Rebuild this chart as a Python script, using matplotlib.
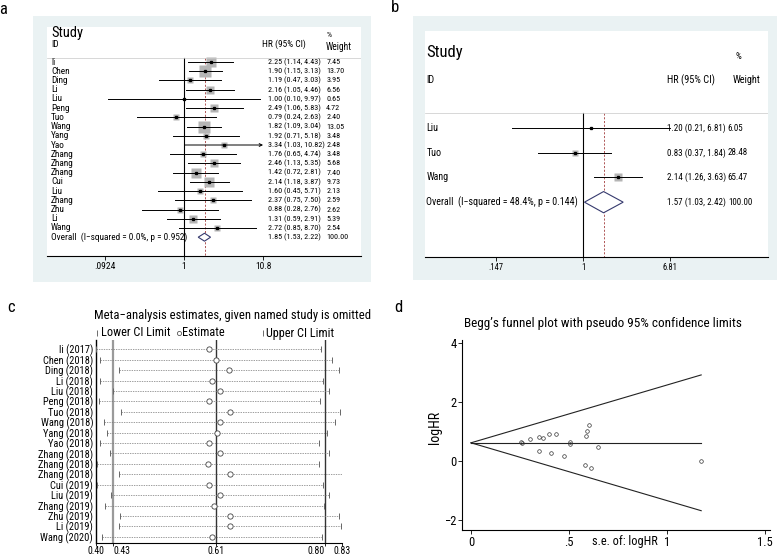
import numpy as np
import matplotlib
matplotlib.use('Agg')
import matplotlib.pyplot as plt
from matplotlib.patches import Rectangle, Polygon
from matplotlib.lines import Line2D
from matplotlib import font_manager

# a narrow humanist face would be closest; use one if it is installed
names_avail = {f.name for f in font_manager.fontManager.ttflist}
family = [f for f in ['Liberation Sans Narrow', 'DejaVu Sans Condensed', 'Roboto Condensed']
          if f in names_avail] + ['Lato', 'DejaVu Sans']
plt.rcParams['font.family'] = family

W, H = 780, 555

# --- panel a : forest plot, all studies ---
a_names = ['li', 'Chen', 'Ding', 'Li', 'Liu', 'Peng', 'Tuo', 'Wang', 'Yang', 'Yao',
           'Zhang', 'Zhang', 'Zhang', 'Cui', 'Liu', 'Zhang', 'Zhu', 'Li', 'Wang']
a_hr = [2.25, 1.90, 1.19, 2.16, 1.00, 2.49, 0.79, 1.82, 1.92, 3.34,
        1.76, 2.46, 1.42, 2.14, 1.60, 2.37, 0.88, 1.31, 2.72]
a_lo = [1.14, 1.15, 0.47, 1.05, 0.10, 1.06, 0.24, 1.09, 0.71, 1.03,
        0.65, 1.13, 0.72, 1.18, 0.45, 0.75, 0.28, 0.59, 0.85]
a_hi = [4.43, 3.13, 3.03, 4.46, 9.97, 5.83, 2.63, 3.04, 5.18, 10.82,
        4.74, 5.35, 2.81, 3.87, 5.71, 7.50, 2.76, 2.91, 8.70]
a_w = [7.45, 13.70, 3.95, 6.56, 0.65, 4.72, 2.40, 13.05, 3.48, 2.48,
       3.48, 5.68, 7.40, 9.73, 2.13, 2.59, 2.62, 5.39, 2.54]
a_overall = (1.85, 1.53, 2.22)
a_overall_txt = 'Overall  (I\u2212squared = 0.0%, p = 0.952)'
a_ticks = [0.0924, 1, 10.8]
a_ticklabels = ['.0924', '1', '10.8']

# --- panel b : forest plot, subgroup ---
b_names = ['Liu', 'Tuo', 'Wang']
b_hr = [1.20, 0.83, 2.14]
b_lo = [0.21, 0.37, 1.26]
b_hi = [6.81, 1.84, 3.63]
b_w = [6.05, 28.48, 65.47]
b_overall = (1.57, 1.03, 2.42)
b_overall_txt = 'Overall  (I\u2212squared = 48.4%, p = 0.144)'
b_ticks = [0.147, 1, 6.81]
b_ticklabels = ['.147', '1', '6.81']

# --- panel c : leave-one-out sensitivity ---
c_names = ['li (2017)', 'Chen (2018)', 'Ding (2018)', 'Li (2018)', 'Liu (2018)',
           'Peng (2018)', 'Tuo (2018)', 'Wang (2018)', 'Yang (2018)', 'Yao (2018)',
           'Zhang (2018)', 'Zhang (2018)', 'Zhang (2018)', 'Cui (2019)', 'Liu (2019)',
           'Zhang (2019)', 'Zhu (2019)', 'Li (2019)', 'Wang (2020)']
c_est = [0.598, 0.610, 0.632, 0.602, 0.617, 0.598, 0.635, 0.616, 0.612, 0.598,
         0.616, 0.596, 0.634, 0.598, 0.617, 0.607, 0.634, 0.634, 0.603]
c_lo = [0.400, 0.407, 0.440, 0.407, 0.429, 0.406, 0.443, 0.414, 0.420, 0.407,
        0.424, 0.401, 0.440, 0.401, 0.426, 0.415, 0.442, 0.440, 0.410]
c_hi = [0.793, 0.812, 0.825, 0.797, 0.807, 0.792, 0.826, 0.818, 0.804, 0.790,
        0.807, 0.790, 0.832, 0.797, 0.807, 0.799, 0.825, 0.828, 0.795]
c_ref = [0.43, 0.61, 0.80]
c_ticks = [0.40, 0.43, 0.61, 0.80, 0.83]

# --- panel d : Begg's funnel (from panel a studies) ---
d_pooled = np.log(1.85)
d_xticks = [0, 0.5, 1, 1.5]
d_xticklabels = ['0', '.5', '1', '1.5']
d_yticks = [-2, 0, 2, 4]
d_yticklabels = ['\u22122', '0', '2', '4']

BG = '#eaf2f3'
SQ = '#b5b5b5'
NAVY = '#363a6e'
RED = '#a23b3b'

fig = plt.figure(figsize=(7.8, 5.55), dpi=100)
renderer = fig.canvas.get_renderer()


def fit_fs(s, target_px, base=10, cap=None):
    # font size that makes string s about target_px wide
    t = fig.text(0, 0, s, fontsize=base)
    wpx = t.get_window_extent(renderer=renderer).width
    t.remove()
    fs = base * target_px / wpx
    return min(fs, cap) if cap else fs


def ax_px(l, t, r, b, **kw):
    return fig.add_axes([l / W, 1 - b / H, (r - l) / W, (b - t) / H], **kw)


def box_px(l, t, r, b, color):
    fig.add_artist(Rectangle((l / W, 1 - b / H), (r - l) / W, (b - t) / H,
                             transform=fig.transFigure, facecolor=color,
                             edgecolor='none', zorder=0))


def forest(ax, names, hr, lo, hi, w, overall, overall_txt, xlim, ylim, sq_k,
           head_y, fs_name, fs_num, fs_tick, ticks, ticklabels, col_name, col_hr, col_w,
           dia_h, clip_hi=None):
    ax.set_xscale('log')
    ax.set_xlim(*xlim)
    ax.set_ylim(*ylim)
    for s in ['top', 'left', 'right']:
        ax.spines[s].set_visible(False)
    ax.spines['bottom'].set_linewidth(0.8)
    ax.set_yticks([])
    ax.minorticks_off()
    ax.set_xticks(ticks)
    ax.set_xticklabels(ticklabels)
    ax.tick_params(axis='x', length=3, width=0.6, labelsize=fs_tick, pad=1)
    tr = ax.get_yaxis_transform()
    n = len(names)
    for i in range(n):
        if clip_hi is not None and hi[i] > clip_hi:
            ax.annotate('', xy=(clip_hi, i), xytext=(lo[i], i),
                        arrowprops=dict(arrowstyle='->', lw=0.7, color='black',
                                        shrinkA=0, shrinkB=0, mutation_scale=5))
        else:
            ax.plot([lo[i], hi[i]], [i, i], color='black', lw=0.7, zorder=3)
        side = sq_k * np.sqrt(w[i]) * 0.72
        ax.plot(hr[i], i, marker='s', ms=side, color=SQ, mec='none', zorder=2)
        ax.plot(hr[i], i, marker='s', ms=1.4, color='black', zorder=4)
        ax.text(col_name, i, names[i], transform=tr, fontsize=fs_name, va='center')
        ax.text(col_hr, i, f'{hr[i]:.2f} ({lo[i]:.2f}, {hi[i]:.2f})',
                transform=tr, fontsize=fs_num, va='center')
        ax.text(col_w, i, f'{w[i]:.2f}', transform=tr, fontsize=fs_num, va='center')
    m, l, h = overall
    dia = Polygon([(l, n), (m, n - dia_h), (h, n), (m, n + dia_h)], closed=True,
                  facecolor='white', edgecolor=NAVY, lw=0.8, zorder=3)
    ax.add_patch(dia)
    ax.text(col_name, n, overall_txt, transform=tr, fontsize=fs_name, va='center')
    ax.text(col_hr, n, f'{m:.2f} ({l:.2f}, {h:.2f})', transform=tr, fontsize=fs_num,
            va='center')
    ax.text(col_w, n, '100.00', transform=tr, fontsize=fs_num, va='center')
    ax.plot([1, 1], [head_y, ylim[0]], color='black', lw=0.8, zorder=1)
    ax.plot([m, m], [head_y, ylim[0]], color=RED, lw=0.6, ls=(0, (2.5, 2)), zorder=1)
    ax.axhline(head_y, color='#c8c8c8', lw=0.5)


# font sizes fitted to the widths measured on the reference
fa_name = fit_fs(a_overall_txt, 136, cap=7.5)
fa_num = fit_fs('2.25 (1.14, 4.43)', 52, cap=7)
fa_tick = fit_fs('.0924', 21, cap=7)
fb_name = fit_fs(b_overall_txt, 151, cap=9)
fb_num = fit_fs('1.20 (0.21, 6.81)', 58, cap=8)
fb_tick = fit_fs('.147', 15, cap=8)

# panel a
box_px(33, 16, 371, 282, BG)
axa = ax_px(47, 27, 361, 256)
forest(axa, a_names, a_hr, a_lo, a_hi, a_w, a_overall, a_overall_txt,
       (np.exp(-4.13), np.exp(5.33)), (21.04, -3.8), 3.5, -0.43, fa_name, fa_num, fa_tick,
       a_ticks, a_ticklabels, 0.013, 0.704, 0.889, 0.43, clip_hi=10.8)
tr = axa.get_yaxis_transform()
axa.text(0.013, -3.15, 'Study', transform=tr, fontsize=fit_fs('Study', 32, cap=11),
         va='center')
axa.text(0.013, -1.95, 'ID', transform=tr, fontsize=fa_name, va='center')
axa.text(0.685, -1.95, 'HR (95% CI)', transform=tr,
         fontsize=fit_fs('HR (95% CI)', 44, cap=7.5), va='center')
axa.text(0.889, -2.9, '%', transform=tr, fontsize=fa_num, va='center')
axa.text(0.889, -1.6, 'Weight', transform=tr, fontsize=fit_fs('Weight', 26, cap=7.5),
         va='center')

# panel b
box_px(413, 16, 777, 280, BG)
axb = ax_px(425, 31, 768, 257)
forest(axb, b_names, b_hr, b_lo, b_hi, b_w, b_overall, b_overall_txt,
       (np.exp(-3.49), np.exp(4.08)), (5.22, -3.93), 1.0, -0.61, fb_name, fb_num, fb_tick,
       b_ticks, b_ticklabels, 0.004, 0.706, 0.883, 0.43)
tr = axb.get_yaxis_transform()
axb.text(0.004, -3.04, 'Study', transform=tr, fontsize=fit_fs('Study', 37, cap=12),
         va='center')
axb.text(0.004, -1.94, 'ID', transform=tr, fontsize=fb_name, va='center')
axb.text(0.706, -1.94, 'HR (95% CI)', transform=tr,
         fontsize=fit_fs('HR (95% CI)', 48, cap=8.5), va='center')
axb.text(0.904, -2.9, '%', transform=tr, fontsize=fb_num, va='center')
axb.text(0.898, -1.94, 'Weight', transform=tr, fontsize=fit_fs('Weight', 28, cap=8.5),
         va='center')

# panel c
axc = ax_px(96, 340, 342, 543)
axc.set_xlim(0.40, 0.83)
axc.set_ylim(18.6, -0.9)
for s in ['top', 'right']:
    axc.spines[s].set_visible(False)
axc.spines['left'].set_linewidth(1.0)
axc.spines['bottom'].set_linewidth(0.8)
for v, col, lw in zip(c_ref, ['#9a9a9a', '#333333', '#333333'], [1.6, 1.0, 1.0]):
    axc.axvline(v, color=col, lw=lw, zorder=1)
for i in range(len(c_names)):
    axc.plot([c_lo[i], c_hi[i]], [i, i], color='#777777', lw=0.5, ls=(0, (2, 1.5)), zorder=2)
    axc.plot([c_lo[i], c_hi[i]], [i, i], ls='none', marker='|', ms=4, mew=0.7,
             color='#666666', zorder=3)
    axc.plot(c_est[i], i, marker='o', ms=3.8, mfc='white', mec='#444444', mew=0.6, zorder=4)
axc.set_yticks(range(len(c_names)))
axc.set_yticklabels(c_names)
axc.tick_params(axis='y', length=0, labelsize=7.5, pad=2)
axc.set_xticks(c_ticks)
axc.set_xticklabels([f'{t:.2f}' for t in c_ticks])
axc.tick_params(axis='x', length=2, width=0.6, labelsize=fit_fs('0.40', 17, cap=8), pad=0.5)
xl = axc.get_xticklabels()
xl[1].set_horizontalalignment('left')
xl[3].set_horizontalalignment('right')
c_title = 'Meta\u2212analysis estimates, given named study is omitted'
fig.text(233 / W, 1 - 315 / H, c_title, fontsize=fit_fs(c_title, 273, cap=10),
         ha='center', va='center')
leg_fs = fit_fs('Lower CI Limit', 69, cap=10)
leg_y = 1 - 333 / H
for xm, mk, xt, lab in [(97, '|', 101, 'Lower CI Limit'), (179, 'o', 182, 'Estimate'),
                        (263, '|', 266, 'Upper CI Limit')]:
    fig.add_artist(Line2D([xm / W], [leg_y], marker=mk, ms=3 if mk == 'o' else 4,
                          mfc='white', mec='#555555', color='#555555', mew=0.6,
                          transform=fig.transFigure))
    fig.text(xt / W, leg_y, lab, fontsize=leg_fs, va='center', ha='left')

# panel d
axd = ax_px(462, 340, 770, 530)
hr_arr = np.array(a_hr)
loghr = np.log(hr_arr)
se = (np.log(a_hi) - np.log(a_lo)) / 3.92
se_max = se.max()
axd.set_xlim(-0.046, 1.525)
axd.set_ylim(-2.34, 4.1)
for s in ['top', 'right']:
    axd.spines[s].set_visible(False)
axd.spines['left'].set_linewidth(0.8)
axd.spines['bottom'].set_linewidth(0.8)
axd.plot([0, se_max], [d_pooled, d_pooled + 1.96 * se_max], color='#222222', lw=0.8)
axd.plot([0, se_max], [d_pooled, d_pooled - 1.96 * se_max], color='#222222', lw=0.8)
axd.plot([0, se_max], [d_pooled, d_pooled], color='#222222', lw=0.8)
axd.plot(se, loghr, ls='none', marker='o', ms=2.6, mfc='none', mec='#333333', mew=0.5)
axd.set_xticks(d_xticks)
axd.set_xticklabels(d_xticklabels)
axd.set_yticks(d_yticks)
axd.set_yticklabels(d_yticklabels)
axd.tick_params(length=3, width=0.6, labelsize=9, pad=1)
d_title = "Begg\u2019s funnel plot with pseudo 95% confidence limits"
d_fs = fit_fs(d_title, 276, cap=10)
fig.text(603 / W, 1 - 323 / H, d_title, fontsize=d_fs, ha='center', va='center')
fig.text(625 / W, 1 - 541 / H, 's.e. of: logHR', fontsize=fit_fs('s.e. of: logHR', 65, cap=10),
         ha='center', va='center')
fig.text(435 / W, 1 - 427 / H, 'logHR', fontsize=fit_fs('logHR', 33, cap=10),
         ha='center', va='center', rotation=90)

# panel letters
for x, y, t in [(3, 9, 'a'), (395, 8, 'b'), (11, 308, 'c'), (398, 308, 'd')]:
    fig.text(x / W, 1 - y / H, t, fontsize=12, ha='center', va='center')

fig.savefig('out.png', dpi=100)
